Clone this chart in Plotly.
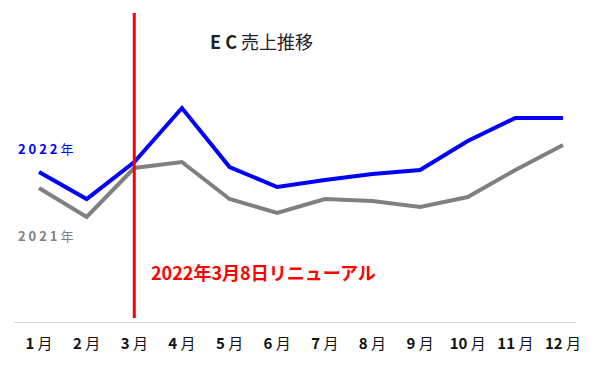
import plotly.graph_objects as go

months = list(range(1, 13))
month_labels = [f"<b>{m}</b> 月" for m in months]
sales_2022 = [150, 123, 160, 214, 155, 135, 142, 148, 152, 181, 204, 204]
sales_2021 = [134, 105, 154, 160, 123, 109, 123, 121, 115, 125, 152, 177]

FONT = "Noto Sans CJK JP"

fig = go.Figure()
fig.add_trace(go.Scatter(x=months, y=sales_2021, mode="lines",
                         line=dict(color="#808080", width=4), hoverinfo="skip"))
fig.add_trace(go.Scatter(x=months, y=sales_2022, mode="lines",
                         line=dict(color="#0000ff", width=4), hoverinfo="skip"))

fig.add_shape(type="line", xref="x", yref="y", x0=3, x1=3, y0=4, y1=309,
              line=dict(color="#ff0000", width=3))

fig.add_annotation(xref="paper", yref="paper", x=0.441, y=0.955, xanchor="center",
                   text="<b>E C</b> 売上推移", showarrow=False,
                   font=dict(family=FONT, size=18, color="#222"))
fig.add_annotation(xref="paper", yref="paper", x=0.004, y=0.561, xanchor="left",
                   text="<b>2 0 2 2</b> 年", showarrow=False,
                   font=dict(family=FONT, size=13, color="#0000ff"))
fig.add_annotation(xref="paper", yref="paper", x=0.004, y=0.242, xanchor="left",
                   text="<b>2 0 2 1</b> 年", showarrow=False,
                   font=dict(family=FONT, size=13, color="#808080"))
fig.add_annotation(xref="x", yref="y", x=3.3, y=50, xanchor="left",
                   text="<b>2022年3月8日リニューアル</b>", showarrow=False,
                   font=dict(family=FONT, size=18, color="#ff0000"))

fig.update_layout(
    width=600, height=379,
    margin=dict(l=14, r=24, t=12, b=57),
    paper_bgcolor="white", plot_bgcolor="white",
    showlegend=False,
    xaxis=dict(range=[0.475, 12.273], tickvals=months, ticktext=month_labels,
               showgrid=False, zeroline=False, showline=True, linecolor="#d9d9d9",
               linewidth=1, ticks="", ticklabelstandoff=8,
               tickfont=dict(family=FONT, size=15, color="#111")),
    yaxis=dict(range=[0, 310], visible=False, showgrid=False, zeroline=False),
)

fig.write_html("out.html")
